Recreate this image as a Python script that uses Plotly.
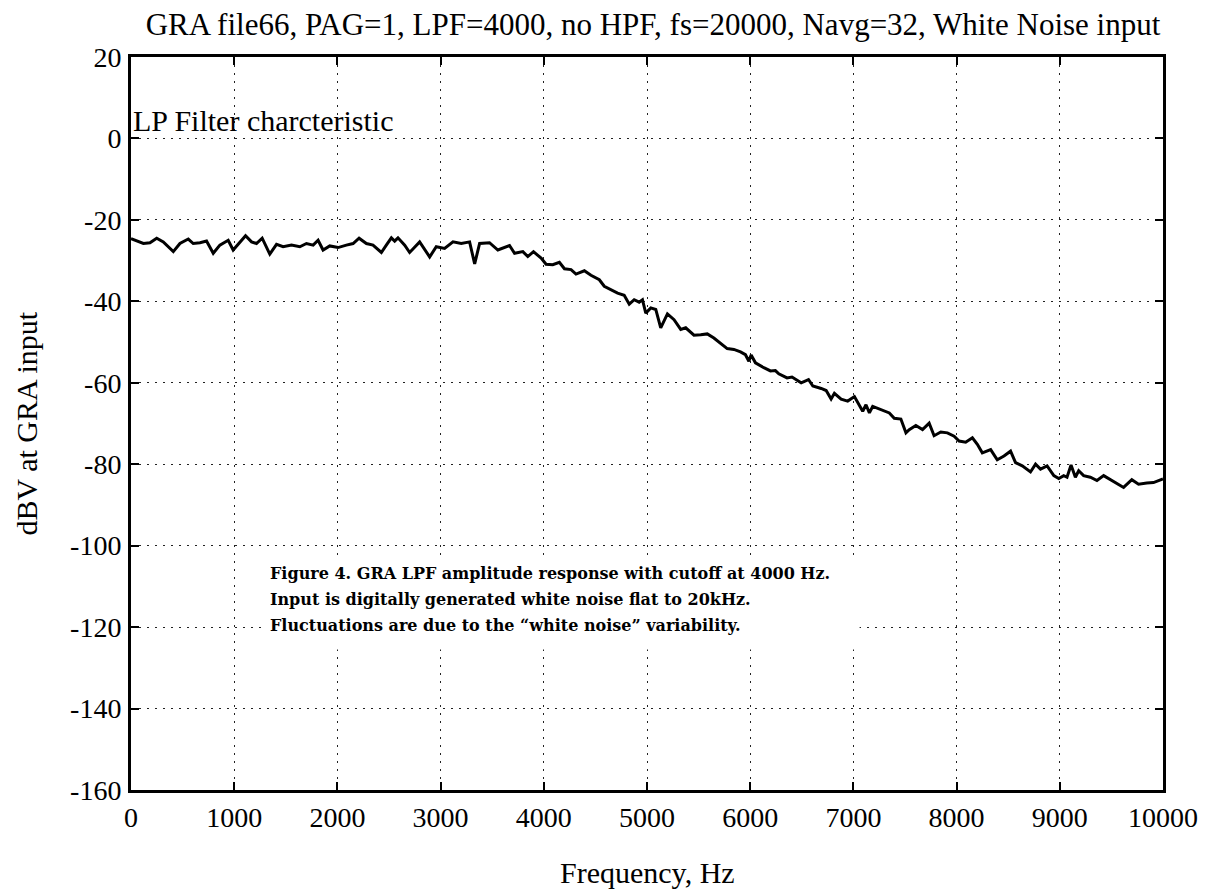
import plotly.graph_objects as go

# ---- data ----
freq_hz = [0, 71, 120, 184, 249, 313, 410, 474, 555, 603, 668, 732, 797, 861, 942, 990,
           1055, 1110, 1168, 1216, 1271, 1345, 1410, 1474, 1555, 1636, 1700, 1765, 1813,
           1861, 1926, 2006, 2087, 2152, 2210, 2281, 2345, 2426, 2474, 2523, 2555, 2587,
           2652, 2700, 2797, 2894, 2958, 3039, 3120, 3200, 3281, 3330, 3378, 3474, 3555,
           3668, 3717, 3797, 3845, 3900, 3974, 4022, 4087, 4151, 4200, 4264, 4312, 4393,
           4457, 4538, 4586, 4650, 4715, 4779, 4828, 4876, 4924, 4956, 4988, 5037, 5085,
           5133, 5198, 5262, 5327, 5375, 5455, 5520, 5584, 5648, 5713, 5777, 5842, 5906,
           5954, 5987, 6009, 6051, 6132, 6196, 6244, 6277, 6357, 6405, 6470, 6494, 6565,
           6607, 6688, 6736, 6784, 6816, 6881, 6945, 7010, 7058, 7090, 7122, 7155, 7187,
           7267, 7348, 7396, 7460, 7509, 7541, 7605, 7670, 7734, 7782, 7847, 7911, 7976,
           8024, 8088, 8153, 8201, 8249, 8330, 8394, 8459, 8523, 8571, 8636, 8716, 8765,
           8813, 8877, 8942, 8990, 9038, 9070, 9109, 9151, 9183, 9231, 9296, 9360, 9425,
           9505, 9553, 9618, 9698, 9763, 9843, 9908, 10000]
level_dbv = [-24.6, -25.4, -25.8, -25.6, -24.5, -25.4, -27.8, -25.8, -24.7, -25.8, -25.6,
             -25.2, -28.2, -26.2, -25.0, -27.4, -25.4, -23.9, -25.4, -25.8, -24.5, -28.4,
             -26.0, -26.6, -26.2, -26.6, -25.8, -26.2, -25.0, -27.4, -26.4, -26.8, -26.2,
             -25.8, -24.5, -25.8, -26.2, -28.0, -26.2, -24.4, -25.2, -24.4, -26.2, -28.0,
             -25.4, -29.1, -26.6, -27.0, -25.4, -25.8, -25.4, -30.8, -25.8, -25.6, -27.4,
             -26.3, -28.2, -27.8, -29.0, -27.8, -29.4, -30.9, -31.0, -30.4, -32.0, -32.2,
             -33.3, -32.5, -33.6, -34.7, -36.3, -37.1, -38.0, -38.5, -40.7, -39.6, -40.2,
             -39.6, -42.9, -41.6, -42.0, -46.5, -43.1, -44.5, -46.9, -46.5, -48.3, -48.2,
             -48.0, -49.0, -50.2, -51.6, -51.8, -52.4, -53.1, -54.7, -53.2, -55.1, -56.3,
             -57.1, -57.0, -57.8, -58.8, -58.6, -59.6, -60.0, -59.2, -60.8, -61.4, -61.9,
             -64.0, -62.6, -64.0, -64.5, -63.4, -65.4, -67.0, -65.4, -67.4, -65.8, -66.6,
             -67.4, -68.7, -68.9, -72.3, -71.5, -70.5, -71.5, -69.9, -73.0, -72.1, -72.3,
             -73.1, -74.3, -74.6, -73.5, -75.1, -77.2, -76.4, -78.9, -78.0, -76.8, -79.6,
             -80.4, -81.9, -80.0, -81.2, -80.4, -82.8, -83.5, -82.8, -83.2, -80.2, -83.2,
             -81.6, -82.8, -83.2, -84.0, -82.8, -84.0, -84.9, -85.7, -83.8, -84.9, -84.6,
             -84.5, -83.6]

x_tick_vals = [0, 1000, 2000, 3000, 4000, 5000, 6000, 7000, 8000, 9000, 10000]
x_tick_text = ["0", "1000", "2000", "3000", "4000", "5000", "6000", "7000", "8000", "9000", "10000"]
y_tick_vals = [-160, -140, -120, -100, -80, -60, -40, -20, 0, 20]
y_tick_text = ["-160", "-140", "-120", "-100", "-80", "-60", "-40", "-20", "0", "20"]

title_text = "GRA file66, PAG=1, LPF=4000, no HPF, fs=20000, Navg=32, White Noise input"
x_title = "Frequency, Hz"
y_title = "dBV at GRA input"
inner_label = "LP Filter charcteristic"
caption_lines = [
    "Figure 4. GRA LPF amplitude response with cutoff at 4000 Hz.",
    "Input is digitally generated white noise flat to 20kHz.",
    "Fluctuations are due to the \u201cwhite noise\u201d variability.",
]

SERIF = "Liberation Serif, Times New Roman, serif"
CAPFONT = "DejaVu Serif, serif"

W, H = 1206, 896
L, R, T, B = 131, 43, 57, 106

fig = go.Figure()
fig.add_trace(go.Scatter(x=freq_hz, y=level_dbv, mode="lines",
                         line=dict(color="black", width=3), showlegend=False,
                         hoverinfo="skip"))

axis_common = dict(
    showline=True, linewidth=3, linecolor="black", mirror="ticks",
    ticks="inside", ticklen=8, tickwidth=2, tickcolor="black",
    showgrid=True, gridcolor="#222", gridwidth=1, griddash="2px,6px",
    zeroline=False, tickfont=dict(family=SERIF, size=28, color="black"),
)

fig.update_xaxes(range=[0, 10000], tickvals=x_tick_vals, ticktext=x_tick_text,
                 ticklabelstandoff=0, **axis_common)
fig.update_yaxes(range=[-160, 20], tickvals=y_tick_vals, ticktext=y_tick_text,
                 ticklabelstandoff=1, **axis_common)

# white box behind the caption (hides the grid there)
fig.add_shape(type="rect", xref="x", yref="y", x0=1290, x1=7060, y0=-102.8, y1=-125.5,
              fillcolor="white", line=dict(width=0), layer="above")

annotations = [
    dict(text=inner_label, x=0, y=4.3, xref="x", yref="y", xanchor="left", yanchor="middle",
         showarrow=False, font=dict(family=SERIF, size=30, color="black")),
    dict(text=x_title, x=0.5, y=0, xref="paper", yref="paper", xanchor="center",
         yanchor="middle", yshift=-82, showarrow=False,
         font=dict(family=SERIF, size=30, color="black")),
    dict(text=y_title, x=0, y=0.5, xref="paper", yref="paper", xanchor="center",
         yanchor="middle", xshift=-105, textangle=-90, showarrow=False,
         font=dict(family=SERIF, size=30, color="black")),
]
caption_y = [-106.8, -113.2, -119.6]
for line, yy in zip(caption_lines, caption_y):
    annotations.append(dict(text="<b>" + line + "</b>", x=1330, y=yy, xref="x", yref="y",
                            xanchor="left", yanchor="middle", showarrow=False,
                            font=dict(family=CAPFONT, size=16, color="black")))

fig.update_layout(
    width=W, height=H,
    margin=dict(l=L, r=R, t=T, b=B, autoexpand=False),
    paper_bgcolor="white", plot_bgcolor="white",
    title=dict(text=title_text, x=653 / W, xanchor="center", y=1 - 24 / H, yanchor="middle",
               font=dict(family=SERIF, size=31, color="black")),
    annotations=annotations,
    hovermode=False,
)

fig.write_html("out.html", config={"displayModeBar": False, "staticPlot": True},
               post_script="document.body.style.margin='0px';")
